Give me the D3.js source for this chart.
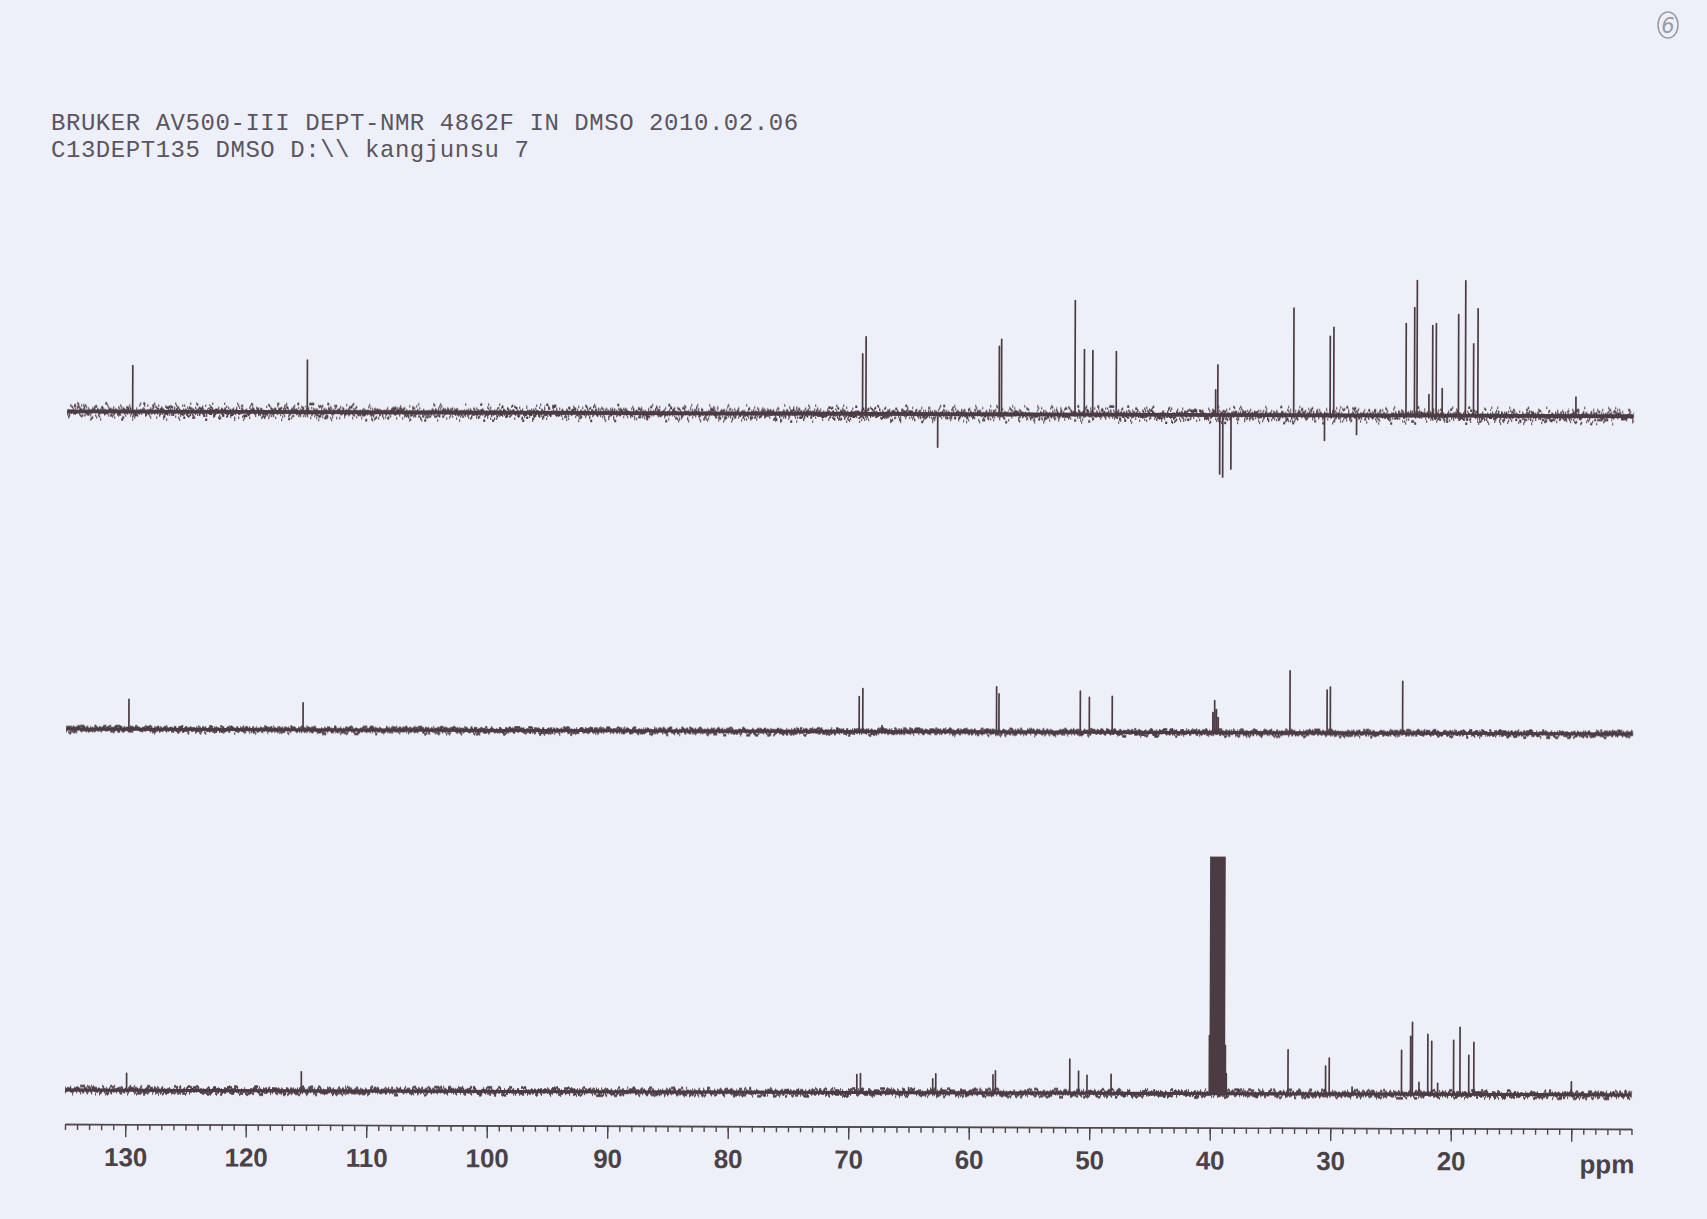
<!DOCTYPE html>
<html>
<head>
<meta charset="utf-8">
<script src="https://cdn.jsdelivr.net/npm/d3@7"></script>
<style>
  html, body { margin: 0; padding: 0; background: #eef0f9; overflow: hidden; }
  .axis path, .axis line { stroke: #4f474b; stroke-width: 1.4; }
  .axis text { font-family: "Liberation Sans Narrow", "Liberation Sans", Arial, sans-serif; font-weight: bold; font-size: 26px; fill: #4a4247; }
</style>
</head>
<body>
<div id="chart"></div>
<script>
// header lines
var headerLines = [
  "BRUKER AV500-III DEPT-NMR 4862F IN DMSO 2010.02.06",
  "C13DEPT135 DMSO D:\\\\ kangjunsu 7"
];

// axis
var majorTicks = [130, 120, 110, 100, 90, 80, 70, 60, 50, 40, 30, 20, 10];
var unitLabel = "ppm";

// peaks as [ppm, intensity]
var topPeaks = [
  [129.57, 46], [115.08, 52], [69.0, 60], [68.72, 77], [62.76, -33],
  [57.66, 68], [57.47, 75], [51.37, 114], [50.6, 65], [49.9, 64], [47.95, 63],
  [39.7, 25], [39.52, 50], [39.35, -59], [39.1, -62], [38.42, -54],
  [33.22, 107], [30.66, -25], [30.2, 79], [29.9, 88], [28.0, -19],
  [23.9, 92], [23.2, 108], [22.99, 135], [22.0, 21], [21.7, 90], [21.4, 92],
  [20.9, 27], [19.55, 101], [18.97, 135], [18.3, 72], [17.94, 107], [9.8, 19]
];

var midPeaks = [
  [129.8, 30], [115.35, 27], [69.2, 35], [68.9, 43], [67.3, 6],
  [57.8, 45], [57.6, 38], [50.85, 41], [50.1, 35], [48.2, 36],
  [39.85, 20], [39.7, 32], [39.55, 23], [39.4, 15],
  [33.45, 62], [30.37, 43], [30.1, 46], [24.1, 52]
];

var botPeaks = [
  [129.9, 17], [115.4, 19], [69.3, 18], [69.0, 19], [65.0, 5],
  [63.0, 14], [62.75, 19], [58.0, 18], [57.8, 22],
  [51.63, 34], [50.9, 22], [50.2, 18], [48.2, 19],
  [38.64, 20],
  [33.52, 44], [30.4, 28], [30.1, 36], [28.2, 7],
  [24.1, 44], [23.35, 58], [23.2, 72], [22.65, 12], [21.92, 60], [21.6, 53],
  [21.1, 11], [19.78, 54], [19.25, 67], [18.52, 39], [18.1, 52], [10.0, 13]
];

// solvent septet, bottom trace (goes off scale)
var dmsoPeaks = [
  [40.02, 58], [39.94, 260], [39.76, 780], [39.57, 1560], [39.39, 1820],
  [39.21, 1560], [39.02, 780], [38.84, 260], [38.75, 48]
];

var width = 1707, height = 1219;
var ink = "#4b3b42";

var svg = d3.select("#chart").append("svg")
  .attr("width", width)
  .attr("height", height);

svg.append("rect")
  .attr("width", width).attr("height", height)
  .attr("fill", "#eef0f9");

var defs = svg.append("defs");

// jagged baseline noise done with a filter (vertical displacement only)
function noiseFilter(id, seed, freq, scale) {
  var f = defs.append("filter")
    .attr("id", id)
    .attr("filterUnits", "userSpaceOnUse")
    .attr("x", 0).attr("y", 0).attr("width", width).attr("height", height)
    .attr("color-interpolation-filters", "sRGB");
  f.append("feTurbulence")
    .attr("type", "fractalNoise")
    .attr("baseFrequency", freq + " 0.0005")
    .attr("numOctaves", 3)
    .attr("seed", seed)
    .attr("result", "t");
  f.append("feColorMatrix")
    .attr("in", "t")
    .attr("type", "matrix")
    .attr("values", "0 0 0 0 0.5  2.6 0 0 0 -0.8  0 0 0 0 0  0 0 0 0 1")
    .attr("result", "d");
  f.append("feDisplacementMap")
    .attr("in", "SourceGraphic")
    .attr("in2", "d")
    .attr("scale", scale)
    .attr("xChannelSelector", "R")
    .attr("yChannelSelector", "G");
}

// header
svg.selectAll(".hdr")
  .data(headerLines)
  .enter().append("text")
  .attr("class", "hdr")
  .attr("x", 51)
  .attr("y", function(d, i) { return 129.5 + i * 27; })
  .attr("font-family", "'Liberation Mono', 'DejaVu Sans Mono', monospace")
  .attr("font-size", 24)
  .attr("letter-spacing", 0.55)
  .attr("fill", "#5a5560")
  .attr("xml:space", "preserve")
  .text(function(d) { return d; });

// circled page mark
svg.append("ellipse")
  .attr("cx", 1668).attr("cy", 25).attr("rx", 10).attr("ry", 13)
  .attr("fill", "none").attr("stroke", "#9a9aa4").attr("stroke-width", 1.5);
svg.append("text")
  .attr("x", 1668).attr("y", 33)
  .attr("text-anchor", "middle")
  .attr("font-family", "'DejaVu Sans', sans-serif")
  .attr("font-style", "italic")
  .attr("font-size", 21)
  .attr("fill", "#9a9aa4")
  .text("6");

var plot = svg.append("g")
  .attr("transform", "rotate(0.18 850 1126)");

var xScale = d3.scaleLinear()
  .domain([135, 5])
  .range([65, 1631.5]);

var traces = [
  { name: "top", peaks: topPeaks, base: 413.8, noise: 16, seed: 3 },
  { name: "mid", peaks: midPeaks, base: 731.5, noise: 7, seed: 11 },
  { name: "bot", peaks: botPeaks, solvent: dmsoPeaks, base: 1092.5, noise: 8, seed: 23, clip: 237 }
];

var line;

traces.forEach(function(t) {
  var yScale = d3.scaleLinear()
    .domain([0, 100])
    .range([t.base, t.base - 100]);

  noiseFilter("n1-" + t.name, t.seed, 0.32, t.noise);
  noiseFilter("n2-" + t.name, t.seed + 5, 0.5, t.noise * 0.7);
  noiseFilter("n3-" + t.name, t.seed + 9, 0.8, t.noise * 0.45);

  var g = plot.append("g");

  if (t.clip) {
    defs.append("clipPath").attr("id", "clip-" + t.name)
      .append("rect")
      .attr("x", 0).attr("y", yScale(t.clip))
      .attr("width", width).attr("height", height);
    g.attr("clip-path", "url(#clip-" + t.name + ")");
  }

  var flat = [[135, 0], [5, 0]];
  line = d3.line()
    .x(function(d) { return xScale(d[0]); })
    .y(function(d) { return yScale(d[1]); });

  // noisy baseline
  ["n1-", "n2-", "n3-"].forEach(function(k) {
    g.append("path").datum(flat)
      .attr("d", line)
      .attr("stroke", ink).attr("stroke-width", 2.6).attr("fill", "none")
      .attr("filter", "url(#" + k + t.name + ")");
  });
  g.append("path").datum(flat)
    .attr("d", line)
    .attr("stroke", ink).attr("stroke-width", 2.2 + t.noise * 0.1).attr("fill", "none");

  // peaks as sticks
  function sticks(list) {
    var sorted = list.slice().sort(function(a, b) { return b[0] - a[0]; });
    var pts = [];
    sorted.forEach(function(p) {
      pts.push([p[0], 0], [p[0], p[1]], [p[0], 0]);
    });
    return pts;
  }
  g.append("path").datum(sticks(t.peaks))
    .attr("d", line)
    .attr("stroke", ink).attr("stroke-width", 1.7).attr("fill", "none")
    .attr("stroke-linejoin", "round");

  if (t.solvent) {
    g.append("path").datum(sticks(t.solvent))
      .attr("d", line)
      .attr("stroke", ink).attr("stroke-width", 2.4).attr("fill", "none")
      .attr("stroke-linejoin", "round");
  }
});

// axis
var axisY = 1126.5;

var minorAxis = d3.axisBottom(xScale)
  .tickValues(d3.range(135, 4, -1))
  .tickSize(6)
  .tickSizeOuter(0)
  .tickFormat("");

plot.append("g")
  .attr("class", "axis")
  .attr("transform", "translate(0," + axisY + ")")
  .call(minorAxis);

var majorAxis = d3.axisBottom(xScale)
  .tickValues(majorTicks)
  .tickSize(13)
  .tickSizeOuter(0)
  .tickFormat(function(d) { return d === 10 ? "" : d; });

var ax = plot.append("g")
  .attr("class", "axis")
  .attr("transform", "translate(0," + axisY + ")")
  .call(majorAxis);

ax.selectAll("text")
  .attr("y", 23.5)
  .attr("dy", "0.71em");

ax.append("text")
  .attr("x", 1607)
  .attr("y", 26)
  .attr("dy", "0.71em")
  .attr("text-anchor", "middle")
  .text(unitLabel);
</script>
</body>
</html>
